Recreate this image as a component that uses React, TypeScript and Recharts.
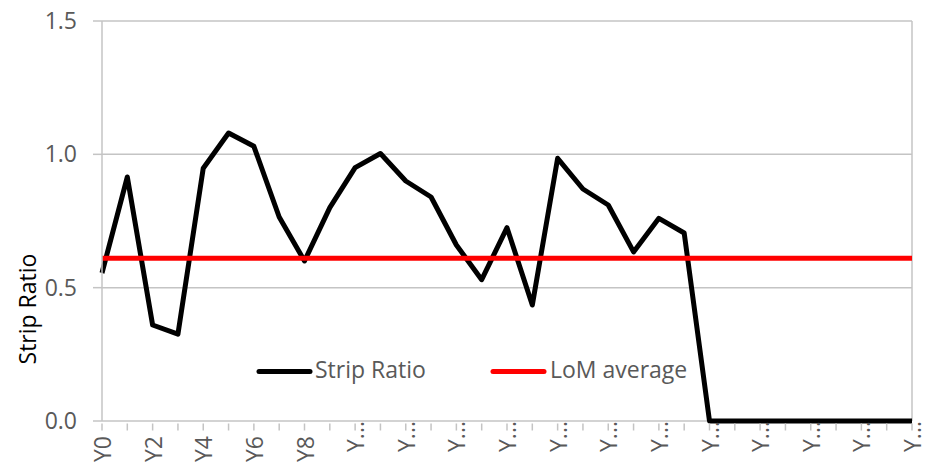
import React from 'react';
import { LineChart, Line, XAxis, YAxis, CartesianGrid, ReferenceLine } from 'recharts';

const categories = [
  'Y0', 'Y1', 'Y2', 'Y3', 'Y4', 'Y5', 'Y6', 'Y7', 'Y8', 'Y9', 'Y10',
  'Y11', 'Y12', 'Y13', 'Y14', 'Y15', 'Y16', 'Y17', 'Y18', 'Y19', 'Y20',
  'Y21', 'Y22', 'Y23', 'Y24', 'Y25', 'Y26', 'Y27', 'Y28', 'Y29', 'Y30',
  'Y31', 'Y32',
];

const stripRatio = [
  0.555, 0.915, 0.36, 0.326, 0.948, 1.08, 1.03, 0.765, 0.60, 0.80, 0.95,
  1.003, 0.90, 0.84, 0.66, 0.53, 0.725, 0.435, 0.985, 0.87, 0.81,
  0.634, 0.76, 0.705, 0, 0, 0, 0, 0, 0, 0,
  0, 0,
];

const lomAverage = 0.61;

const yTicks = [0, 0.5, 1.0, 1.5];

const seriesNames = { strip: 'Strip Ratio', lom: 'LoM average' };
const yAxisTitle = 'Strip Ratio';

const data = categories.map((c, i) => ({ name: c, strip: stripRatio[i] }));

const FONT = '"Open Sans", sans-serif';
const TEXT = '#595959';
const GRID = '#c4c4c4';

const XTick = (props: any) => {
  const { x, y, payload, index } = props;
  const idx = payload && typeof payload.index === 'number' ? payload.index : index;
  if (idx % 2 !== 0) return null;
  const full = String(payload.value);
  const truncated = full.length > 2;
  const label = truncated ? 'Y...' : full;
  const ty = truncated ? y - 7 : y + 8;
  return (
    <text
      x={x}
      y={ty}
      transform={`rotate(-90, ${x}, ${ty})`}
      textAnchor="end"
      dominantBaseline="central"
      fill={TEXT}
      fontSize={23}
      fontFamily={FONT}
    >
      {label}
    </text>
  );
};

const YTitle = () => (
  <text
    x={36}
    y={309}
    transform="rotate(-90, 36, 309)"
    textAnchor="middle"
    fill="#000"
    fontSize={23}
    fontFamily={FONT}
  >
    {yAxisTitle}
  </text>
);

export default function App() {
  return (
    <div style={{ position: 'absolute', left: 0, top: 0, width: 929, height: 466, background: '#fff' }}>
      <LineChart
        width={929}
        height={466}
        data={data}
        margin={{ top: 21, right: 17, left: 0, bottom: 0 }}
      >
        <CartesianGrid vertical={false} stroke={GRID} strokeWidth={1.5} />
        <ReferenceLine x="Y32" stroke={GRID} strokeWidth={1.5} />
        <XAxis
          dataKey="name"
          interval={0}
          height={45}
          tickSize={7}
          tickMargin={0}
          axisLine={false}
          tickLine={{ stroke: GRID, strokeWidth: 1.5, transform: 'translate(0, 2.5)' }}
          tick={<XTick />}
        />
        <YAxis
          domain={[0, 1.5]}
          ticks={yTicks}
          width={102}
          tickSize={9}
          tickMargin={16}
          tickFormatter={(v: number) => v.toFixed(1)}
          axisLine={{ stroke: GRID, strokeWidth: 1.5 }}
          tickLine={{ stroke: GRID, strokeWidth: 1.5 }}
          tick={{ fill: TEXT, fontSize: 23, fontFamily: FONT }}
          label={{ content: () => <YTitle /> }}
        />
        <Line
          type="linear"
          dataKey="strip"
          name={seriesNames.strip}
          stroke="#000"
          strokeWidth={5}
          strokeLinejoin="round"
          dot={false}
          activeDot={false}
          isAnimationActive={false}
        />
        <ReferenceLine y={lomAverage} stroke="#ff0000" strokeWidth={5} />
      </LineChart>
      <svg
        width={929}
        height={466}
        style={{ position: 'absolute', left: 0, top: 0, pointerEvents: 'none' }}
      >
        <line x1={259} y1={371.5} x2={310} y2={371.5} stroke="#000" strokeWidth={5} strokeLinecap="round" />
        <text x={315} y={378} fill={TEXT} fontSize={23} fontFamily={FONT}>{seriesNames.strip}</text>
        <line x1={493} y1={371.5} x2={544} y2={371.5} stroke="#ff0000" strokeWidth={5} strokeLinecap="round" />
        <text x={550} y={378} fill={TEXT} fontSize={23} fontFamily={FONT}>{seriesNames.lom}</text>
      </svg>
    </div>
  );
}
